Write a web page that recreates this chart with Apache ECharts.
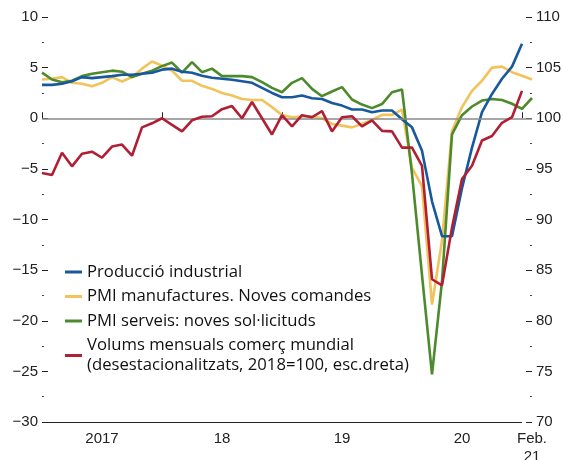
<!DOCTYPE html>
<html><head><meta charset="utf-8">
<script src="https://cdn.jsdelivr.net/npm/echarts@6/dist/echarts.min.js"></script>
<style>html,body{margin:0;padding:0;background:#fff}#c{width:563px;height:460px}</style>
</head><body><div id="c"></div>
<script>
const categories = [
 '2017-01','2017-02','2017-03','2017-04','2017-05','2017-06','2017-07','2017-08','2017-09','2017-10','2017-11','2017-12',
 '2018-01','2018-02','2018-03','2018-04','2018-05','2018-06','2018-07','2018-08','2018-09','2018-10','2018-11','2018-12',
 '2019-01','2019-02','2019-03','2019-04','2019-05','2019-06','2019-07','2019-08','2019-09','2019-10','2019-11','2019-12',
 '2020-01','2020-02','2020-03','2020-04','2020-05','2020-06','2020-07','2020-08','2020-09','2020-10','2020-11','2020-12',
 '2021-01','2021-02'];
const tickIdx = [0,12,24,36,48];
const labelIdx = [6,18,30,42,49];
const labelTxt = ['2017','18','19','20','Feb.\n21'];

const prodIndustrial = [3.3,3.3,3.4,3.66,4.06,3.96,4.06,4.16,4.3,4.3,4.4,4.5,
 4.8,4.9,4.6,4.5,4.2,4.0,3.9,3.8,3.66,3.5,3.0,2.5,
 2.08,2.08,2.24,1.98,1.9,1.5,1.25,0.86,0.86,0.6,0.76,0.76,
 -0.1,-0.9,-3.2,-8.2,-11.65,-11.65,-6.9,-2.9,0.6,2.4,3.9,5.1,
 7.35,null];
const pmiManuf = [3.83,3.9,4.06,3.5,3.4,3.17,3.5,4.06,3.63,4.06,4.9,5.6,
 5.2,4.7,3.7,3.7,3.2,2.9,2.5,2.24,1.9,1.8,1.8,1.1,
 0.33,0.1,0.17,0.17,0.0,-0.56,-0.73,-0.9,-0.56,-0.17,0.33,0.33,
 0.86,-4.9,-6.7,-18.4,-12.1,-1.25,1.1,2.7,3.7,5.0,5.1,4.55,
 4.2,3.83];
const pmiServ = [4.5,3.83,3.56,3.7,4.16,4.4,4.55,4.7,4.6,4.06,4.4,4.7,
 5.15,5.5,4.5,5.55,4.55,4.9,4.16,4.16,4.16,4.06,3.56,3.0,
 2.57,3.5,3.96,2.9,2.18,2.64,3.07,1.85,1.35,1.0,1.4,2.57,
 2.84,-5.5,-15.5,-25.3,-16.1,-1.6,0.3,1.16,1.75,1.9,1.8,1.43,
 0.93,2.0];
const tradeVol = [94.6,94.4,96.6,95.25,96.5,96.7,96.1,97.2,97.4,96.3,99.1,99.5,
 100.0,99.35,98.7,99.8,100.15,100.2,100.9,101.2,100.0,101.6,100.0,98.4,
 100.3,99.2,100.3,100.1,100.7,98.7,100.1,100.2,99.2,99.8,98.75,98.7,
 97.1,97.1,95.3,84.1,83.5,89.2,94.0,95.3,97.8,98.25,99.55,100.1,
 102.7,null];

const names = ['Producció industrial','PMI manufactures. Noves comandes','PMI serveis: noves sol·licituds',
 'Volums mensuals comerç mundial\n(desestacionalitzats, 2018=100, esc.dreta)'];
const colors = ['#17599c','#f2c35a','#4d8a2c','#b01f33'];

const axisFont = {fontFamily:'Liberation Sans',fontSize:15,color:'#222'};
const fmtNeg = v => String(v).replace('-','\u2212');

const chart = echarts.init(document.getElementById('c'),null,{renderer:'canvas'});
function line(i,data,yIdx,extra){
  return Object.assign({name:names[i],type:'line',data:data,yAxisIndex:yIdx,showSymbol:false,symbol:'none',
    lineStyle:{color:colors[i],width:2.6},itemStyle:{color:colors[i]},animation:false,connectNulls:false},extra||{});
}
chart.setOption({
  animation:false,
  grid:{left:42,right:31,top:17,bottom:38,containLabel:false,outerBoundsMode:'none'},
  legend:{orient:'vertical',left:60,top:257,itemGap:4.5,itemWidth:17,itemHeight:3,icon:'rect',
    data:names,
    textStyle:{fontFamily:'Open Sans',fontSize:16.7,color:'#111',lineHeight:20}},
  xAxis:{type:'category',data:categories,boundaryGap:false,
    axisLine:{show:false},
    axisTick:{show:true,inside:true,length:6,lineStyle:{color:'#222'},
      interval:(i)=>tickIdx.indexOf(i)>=0},
    axisLabel:Object.assign({},axisFont,{margin:8,lineHeight:18,
      interval:(i)=>labelIdx.indexOf(i)>=0,
      formatter:(v,i)=>{const k=labelIdx.indexOf(i);return k>=0?labelTxt[k]:'';}}),
    splitLine:{show:false}},
  yAxis:[
    {type:'value',min:-30,max:10,interval:5,position:'left',
     axisLine:{show:false},
     axisTick:{show:true,inside:true,length:6,lineStyle:{color:'#222'}},
     minorTick:{show:true,splitNumber:2,length:2,lineStyle:{color:'#444'}},
     axisLabel:Object.assign({},axisFont,{margin:4,formatter:fmtNeg}),
     splitLine:{show:false}},
    {type:'value',min:70,max:110,interval:5,position:'right',
     axisLine:{show:false},
     axisTick:{show:true,inside:true,length:6,lineStyle:{color:'#222'}},
     minorTick:{show:true,splitNumber:2,length:2,lineStyle:{color:'#444'}},
     axisLabel:Object.assign({},axisFont,{margin:4}),
     splitLine:{show:false}}
  ],
  series:[
    line(1,pmiManuf,0,{z:2,markLine:{silent:true,symbol:'none',label:{show:false},animation:false,
      lineStyle:{color:'#8a8a8a',width:1.6,type:'solid'},
      data:[[{coord:[0,0]},{coord:[49,0]}],
            [{coord:[0,-30],lineStyle:{color:'#222',width:1.2}},{coord:[48,-30],lineStyle:{color:'#222',width:1.2}}]]}}),
    line(2,pmiServ,0,{z:3}),
    line(0,prodIndustrial,0,{z:4}),
    line(3,tradeVol,1,{z:5})
  ]
});
</script></body></html>
